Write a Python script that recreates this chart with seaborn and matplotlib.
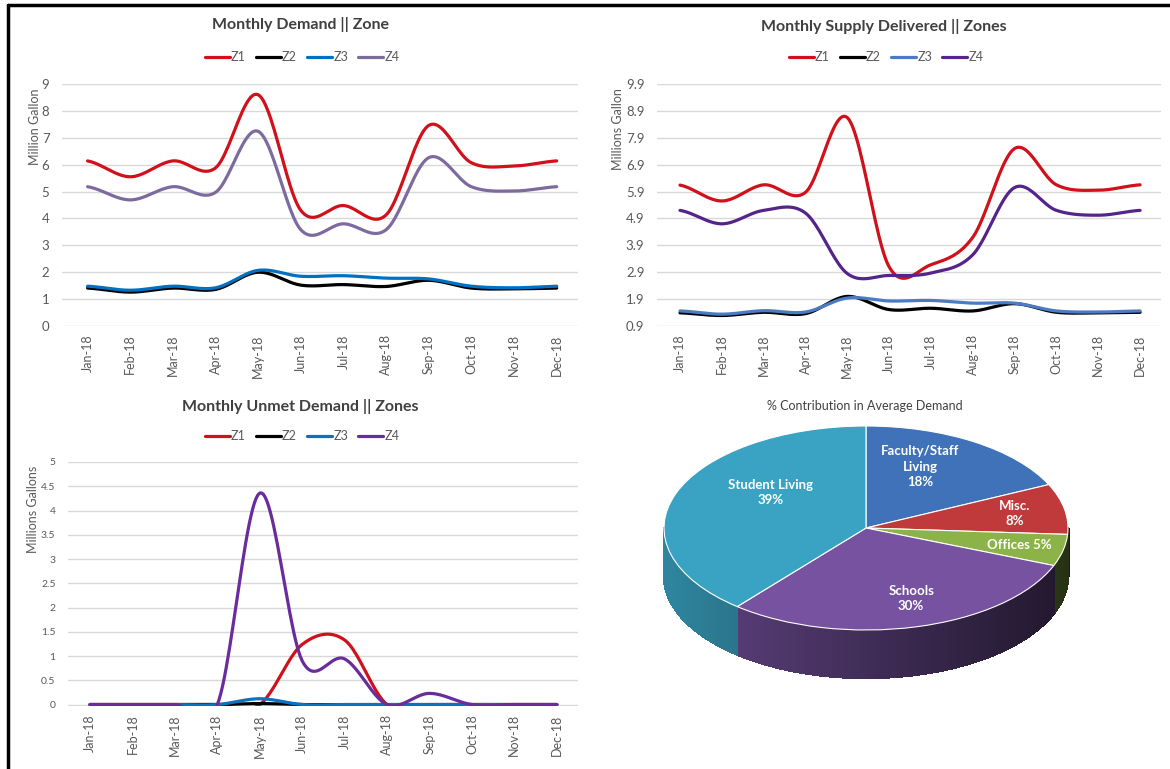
import numpy as np
import pandas as pd
import seaborn as sns
import matplotlib.pyplot as plt
from matplotlib.lines import Line2D
from matplotlib.collections import PolyCollection
import matplotlib.colors as mcolors

months = ["Jan-18", "Feb-18", "Mar-18", "Apr-18", "May-18", "Jun-18",
          "Jul-18", "Aug-18", "Sep-18", "Oct-18", "Nov-18", "Dec-18"]
zones = ["Z1", "Z2", "Z3", "Z4"]

# Monthly demand (million gallon)
demand_z1 = [6.14, 5.55, 6.14, 5.88, 8.6, 4.3, 4.48, 4.13, 7.46, 6.07, 5.95, 6.14]
demand_z2 = [1.41, 1.26, 1.41, 1.36, 2.0, 1.52, 1.54, 1.47, 1.7, 1.41, 1.38, 1.41]
demand_z3 = [1.48, 1.33, 1.48, 1.42, 2.07, 1.85, 1.87, 1.78, 1.75, 1.48, 1.42, 1.48]
demand_z4 = [5.18, 4.69, 5.18, 4.97, 7.24, 3.58, 3.8, 3.58, 6.26, 5.18, 5.02, 5.18]

# Monthly supply delivered
supply_z1 = [6.14, 5.55, 6.15, 5.87, 8.65, 3.1, 3.18, 4.2, 7.5, 6.15, 5.95, 6.15]
supply_z2 = [1.39, 1.29, 1.41, 1.36, 2.0, 1.51, 1.56, 1.46, 1.73, 1.41, 1.39, 1.41]
supply_z3 = [1.46, 1.34, 1.47, 1.42, 1.94, 1.83, 1.85, 1.75, 1.75, 1.46, 1.42, 1.46]
supply_z4 = [5.2, 4.7, 5.2, 5.1, 2.85, 2.78, 2.87, 3.55, 6.05, 5.2, 5.02, 5.2]

# Monthly unmet demand
unmet_z1 = [0, 0, 0, 0, 0, 1.24, 1.33, 0, 0, 0, 0, 0]
unmet_z2 = [0, 0, 0, 0, 0.02, 0, 0, 0, 0, 0, 0, 0]
unmet_z3 = [0, 0, 0, 0, 0.12, 0, 0, 0, 0, 0, 0, 0]
unmet_z4 = [0, 0, 0, 0, 4.36, 0.9, 0.94, 0, 0.23, 0, 0, 0]

pie_labels = ["Faculty/Staff\nLiving\n18%", "Misc.\n8%", "Offices 5%", "Schools\n30%", "Student Living\n39%"]
pie_shares = [18, 8, 5, 30, 39]
pie_colors = ["#3f72b8", "#c0393b", "#8cb348", "#7652a0", "#3aa3c3"]

W, H = 1170, 769
TXT = "#595959"

sns.set_theme(style="white")
plt.rcParams['font.family'] = ['Lato', 'DejaVu Sans']


def px_axes(fig, left, top, right, bottom):
    return fig.add_axes([left / W, 1 - bottom / H, (right - left) / W, (bottom - top) / H])


def smooth(values, n=24):
    # Excel style smoothed line (Catmull-Rom through the monthly points)
    y = np.asarray(values, float)
    p = np.concatenate([[y[0]], y, [y[-1]]])
    xs, ys = [], []
    t = np.linspace(0, 1, n, endpoint=False)
    for i in range(len(y) - 1):
        p0, p1, p2, p3 = p[i], p[i + 1], p[i + 2], p[i + 3]
        m1 = (p2 - p0) / 2
        m2 = (p3 - p1) / 2
        h00 = 2 * t**3 - 3 * t**2 + 1
        h10 = t**3 - 2 * t**2 + t
        h01 = -2 * t**3 + 3 * t**2
        h11 = t**3 - t**2
        xs.append(i + t)
        ys.append(h00 * p1 + h10 * m1 + h01 * p2 + h11 * m2)
    xs.append([len(y) - 1])
    ys.append([y[-1]])
    return np.concatenate(xs), np.concatenate(ys)


def line_panel(fig, box, series, colors, yticks, ylim, xlim, title, title_xy,
               legend_xy, ylabel, ylabel_xy, tick_size=9.5, ytick_fmt="{:g}"):
    ax = px_axes(fig, *box)
    rows = []
    for z, vals in zip(zones, series):
        xs, ys = smooth(vals)
        rows.append(pd.DataFrame({"x": xs, "y": ys, "zone": z}))
    df = pd.concat(rows, ignore_index=True)
    sns.lineplot(data=df, x="x", y="y", hue="zone", palette=dict(zip(zones, colors)),
                 linewidth=2.3, ax=ax, legend=False, sort=False, estimator=None)
    ax.set_xlim(*xlim)
    ax.set_ylim(*ylim)
    ax.set_yticks(yticks)
    ax.set_yticklabels([ytick_fmt.format(v) for v in yticks], fontsize=tick_size, color=TXT)
    ax.set_xticks(range(len(months)))
    ax.set_xticklabels(months, rotation=90, fontsize=9, color=TXT)
    ax.tick_params(axis="y", length=0, pad=9)
    ax.tick_params(axis="x", length=0, pad=6)
    ax.grid(axis="y", color="#d9d9d9", linewidth=1)
    ax.set_axisbelow(True)
    for s in ax.spines.values():
        s.set_visible(False)
    ax.set_xlabel("")
    ax.set_ylabel("")
    fig.text(title_xy[0] / W, 1 - title_xy[1] / H, title, ha="center", va="center",
             fontsize=11.5, fontweight="bold", color="#404040")
    fig.text(ylabel_xy[0] / W, 1 - ylabel_xy[1] / H, ylabel, ha="center", va="center",
             rotation=90, fontsize=9, color=TXT)
    handles = [Line2D([], [], color=c, lw=2.3) for c in colors]
    fig.legend(handles, zones, loc="center", ncol=4, frameon=False,
               bbox_to_anchor=(legend_xy[0] / W, 1 - legend_xy[1] / H),
               fontsize=9, handlelength=2.0, handletextpad=0.1, columnspacing=0.8,
               labelcolor=TXT)
    return ax


fig = plt.figure(figsize=(W / 100, H / 100), dpi=100)

line_panel(fig, (62, 84, 578, 326), [demand_z1, demand_z2, demand_z3, demand_z4],
           ["#d0101a", "#000000", "#0070c0", "#7d6a9f"],
           np.arange(0, 10, 1), (0, 9), (-0.6, 11.5),
           "Monthly Demand || Zone", (301, 25), (302, 57),
           "Million Gallon", (35, 127))

line_panel(fig, (657, 84, 1161, 326), [supply_z1, supply_z2, supply_z3, supply_z4],
           ["#d0101a", "#000000", "#4a7cc4", "#55248a"],
           np.round(np.arange(0.9, 10.0, 1.0), 1), (0.9, 9.9), (-0.55, 11.5),
           "Monthly Supply Delivered || Zones", (884, 27), (886, 57),
           "Millions Gallon", (618, 129), ytick_fmt="{:.1f}")

line_panel(fig, (68, 462, 578, 706), [unmet_z1, unmet_z2, unmet_z3, unmet_z4],
           ["#d0101a", "#000000", "#0a72c0", "#6a2c9c"],
           np.arange(0, 5.5, 0.5), (-0.03, 5), (-0.52, 11.5),
           "Monthly Unmet Demand || Zones", (300, 406), (302, 436),
           "Millions Gallons", (33, 509), tick_size=7.5)

# 3D-looking pie
pax = px_axes(fig, 640, 415, 1100, 700)
rx, ry, depth = 202.0, 102.0, 48.0
wedges, _ = pax.pie(pie_shares, colors=pie_colors, startangle=90, counterclock=False,
                    wedgeprops=dict(edgecolor="white", linewidth=0.8, zorder=3))
pax.set_aspect("auto")
pax.set_xlim(-226 / rx, 234 / rx)
pax.set_ylim(-(700 - 528) / ry, (528 - 415) / ry)
d = depth / ry

polys, cols = [], []
for w, c in zip(wedges, pie_colors):
    a1, a2 = sorted([w.theta1, w.theta2])
    angs = np.linspace(a1, a2, max(int((a2 - a1) * 2), 2))
    base = np.array(mcolors.to_rgb(c))
    for a, b in zip(angs[:-1], angs[1:]):
        ra, rb = np.radians(a), np.radians(b)
        if np.sin(ra) > 0.001 and np.sin(rb) > 0.001:
            continue
        xa, ya, xb, yb = np.cos(ra), min(np.sin(ra), 0), np.cos(rb), min(np.sin(rb), 0)
        polys.append([(xa, ya), (xb, yb), (xb, yb - d), (xa, ya - d)])
        f = 0.55 - 0.27 * (xa + xb) / 2
        cols.append(tuple(base * f))
pax.add_collection(PolyCollection(polys, facecolors=cols, edgecolors=cols, linewidths=1.0,
                                  antialiaseds=False, zorder=1))

label_r = [0.5, 0.75, 0.78, 0.9, 0.5]
label_lift = [0.18, 0.0, 0.0, 0.18, 0.18]
for w, lab, r, lift in zip(wedges, pie_labels, label_r, label_lift):
    mid = np.radians((w.theta1 + w.theta2) / 2)
    pax.text(r * np.cos(mid), r * np.sin(mid) + lift, lab, ha="center", va="center",
             color="white", fontsize=9.5, fontweight="bold", linespacing=1.35, zorder=5)

fig.text(865 / W, 1 - 406 / H, "% Contribution in Average Demand", ha="center", va="center",
         fontsize=9, color="#404040")

# outer frame (top and left edges)
fig.add_artist(Line2D([8 / W, 1], [1 - 5 / H, 1 - 5 / H], color="black", lw=2.5, transform=fig.transFigure))
fig.add_artist(Line2D([8 / W, 8 / W], [0, 1 - 5 / H], color="black", lw=2.5, transform=fig.transFigure))

fig.savefig("out.png", dpi=100)
